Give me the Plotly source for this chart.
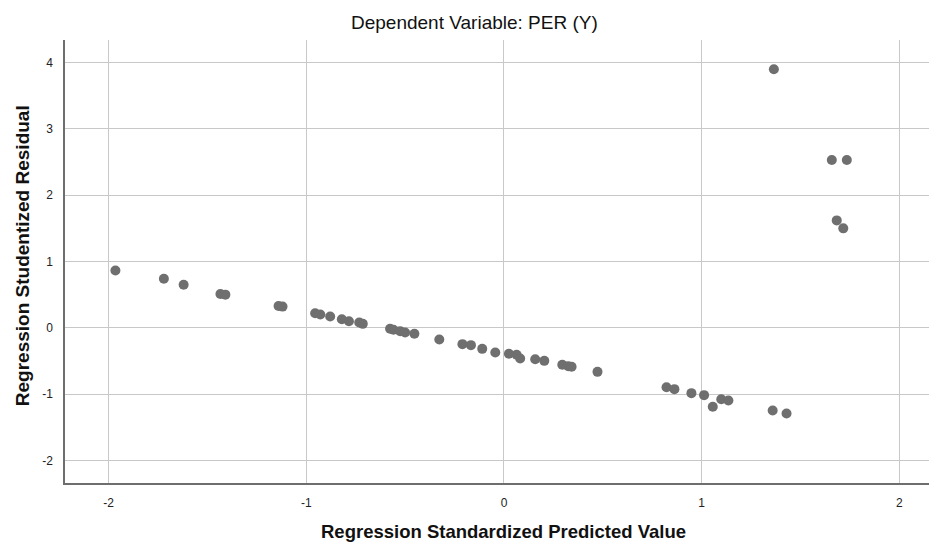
import plotly.graph_objects as go

# Regression standardized predicted values (x) and studentized residuals (y)
pred = [-1.965, -1.72, -1.62, -1.434, -1.409, -1.14, -1.12, -0.955, -0.929, -0.879,
        -0.82, -0.784, -0.732, -0.714, -0.576, -0.559, -0.525, -0.50, -0.453, -0.327,
        -0.21, -0.167, -0.11, -0.044, 0.025, 0.064, 0.082, 0.158, 0.204, 0.295,
        0.325, 0.342, 0.473, 0.822, 0.862, 0.948, 1.012, 1.056, 1.099, 1.135,
        1.359, 1.429, 1.365, 1.658, 1.734, 1.683, 1.716]
resid = [0.864, 0.74, 0.65, 0.51, 0.50, 0.33, 0.32, 0.22, 0.20, 0.17,
         0.13, 0.10, 0.08, 0.06, -0.015, -0.03, -0.05, -0.07, -0.09, -0.176,
         -0.246, -0.261, -0.317, -0.372, -0.392, -0.407, -0.463, -0.473, -0.498, -0.558,
         -0.578, -0.588, -0.664, -0.895, -0.925, -0.985, -1.015, -1.19, -1.076, -1.096,
         -1.247, -1.292, 3.90, 2.53, 2.53, 1.62, 1.50]

x_ticks = [-2, -1, 0, 1, 2]
y_ticks = [-2, -1, 0, 1, 2, 3, 4]

title_text = "Dependent Variable: PER (Y)"
x_title = "Regression Standardized Predicted Value"
y_title = "Regression Studentized Residual"

font = "Liberation Sans, Arial, sans-serif"

fig = go.Figure()
fig.add_trace(go.Scatter(
    x=pred, y=resid, mode="markers",
    marker=dict(color="#6f6f6f", size=10, line=dict(width=0)),
    showlegend=False, hoverinfo="x+y",
))

fig.update_layout(
    width=937, height=545,
    margin=dict(l=57, r=8, t=32, b=70),
    paper_bgcolor="white", plot_bgcolor="white",
    xaxis=dict(range=[-2.22, 2.19], tickvals=x_ticks, ticktext=[str(v) for v in x_ticks],
               showgrid=True, gridcolor="#c8c8c8", gridwidth=1, zeroline=False,
               showline=True, linecolor="#6e6e6e", linewidth=1.5, ticks="",
               tickfont=dict(family=font, size=12, color="#222222"), ticklabelstandoff=8),
    yaxis=dict(range=[-2.34, 4.34], tickvals=y_ticks, ticktext=[str(v) for v in y_ticks],
               showgrid=True, gridcolor="#c8c8c8", gridwidth=1, zeroline=False,
               showline=True, linecolor="#6e6e6e", linewidth=1.5, ticks="",
               tickfont=dict(family=font, size=12, color="#222222"), ticklabelstandoff=8),
    annotations=[
        dict(text=title_text, xref="paper", yref="paper", x=0.470, y=1.0384,
             showarrow=False, xanchor="center", yanchor="middle",
             font=dict(family=font, size=19, color="#111111")),
        dict(text="<b>" + x_title + "</b>", xref="paper", yref="paper", x=0.503, y=-0.1106,
             showarrow=False, xanchor="center", yanchor="middle",
             font=dict(family=font, size=18.5, color="#111111")),
        dict(text="<b>" + y_title + "</b>", xref="paper", yref="paper", x=-0.0493, y=0.512,
             showarrow=False, xanchor="center", yanchor="middle", textangle=-90,
             font=dict(family=font, size=19, color="#111111")),
    ],
)

fig.write_html("out.html")
